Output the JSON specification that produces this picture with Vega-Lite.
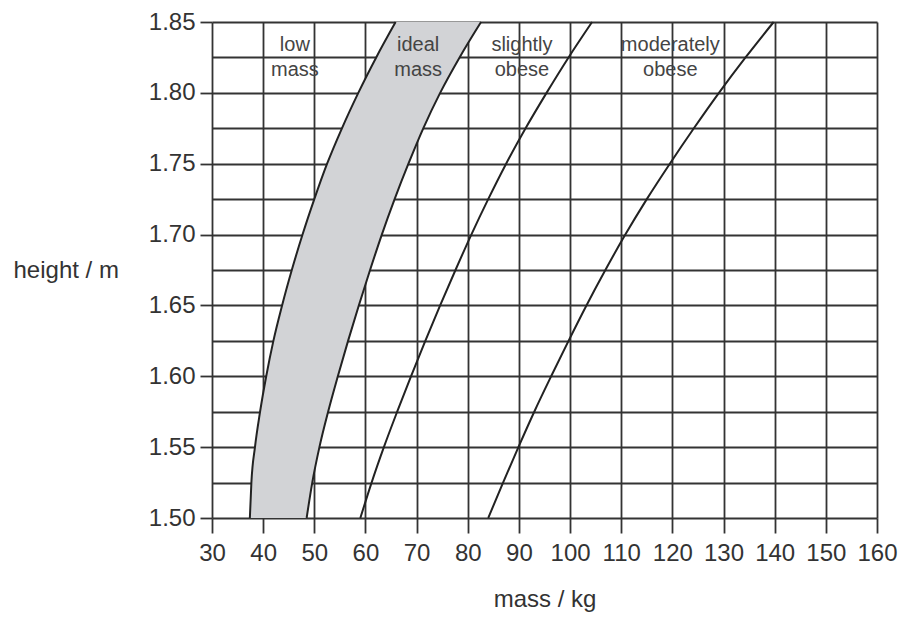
{
  "$schema": "https://vega.github.io/schema/vega-lite/v6.json",
  "description": "Height against mass chart with mass categories",
  "width": 665,
  "height": 496,
  "autosize": {"type": "none"},
  "padding": {"left": 212, "top": 22, "right": 25, "bottom": 101},
  "config": {
    "background": "white",
    "font": "Liberation Sans",
    "view": {"stroke": null},
    "axis": {
      "zindex": 1,
      "domain": false,
      "grid": true,
      "gridColor": "#333",
      "gridWidth": 1.8,
      "gridOpacity": 1,
      "tickColor": "#333",
      "tickWidth": 1.8,
      "labelFontSize": 24,
      "labelColor": "#333",
      "labelOverlap": false,
      "labelFlush": false,
      "labelBound": false,
      "titleFontSize": 24,
      "titleFontWeight": "normal",
      "titleColor": "#333"
    }
  },
  "data": {
    "values": [
      {"height": 1.500, "c1": 37.4, "c2": 48.5, "c3": 59.0, "c4": 84.0},
      {"height": 1.525, "c1": 37.7, "c2": 49.6, "c3": 61.2, "c4": 86.9},
      {"height": 1.550, "c1": 38.4, "c2": 51.0, "c3": 63.6, "c4": 89.9},
      {"height": 1.575, "c1": 39.4, "c2": 52.7, "c3": 66.2, "c4": 93.0},
      {"height": 1.600, "c1": 40.6, "c2": 54.6, "c3": 68.9, "c4": 96.3},
      {"height": 1.625, "c1": 42.0, "c2": 56.6, "c3": 71.7, "c4": 99.7},
      {"height": 1.650, "c1": 43.7, "c2": 58.7, "c3": 74.6, "c4": 103.2},
      {"height": 1.675, "c1": 45.6, "c2": 60.9, "c3": 77.6, "c4": 106.9},
      {"height": 1.700, "c1": 47.7, "c2": 63.2, "c3": 80.7, "c4": 110.8},
      {"height": 1.725, "c1": 50.0, "c2": 65.7, "c3": 84.0, "c4": 115.0},
      {"height": 1.750, "c1": 52.5, "c2": 68.4, "c3": 87.5, "c4": 119.5},
      {"height": 1.775, "c1": 55.4, "c2": 71.3, "c3": 91.3, "c4": 124.2},
      {"height": 1.800, "c1": 58.6, "c2": 74.6, "c3": 95.4, "c4": 129.1},
      {"height": 1.825, "c1": 62.1, "c2": 78.4, "c3": 99.7, "c4": 134.3},
      {"height": 1.850, "c1": 65.9, "c2": 82.6, "c3": 104.3, "c4": 139.8}
    ]
  },
  "encoding": {
    "y": {
      "field": "height",
      "type": "quantitative",
      "scale": {"domain": [1.5, 1.85], "nice": false, "zero": false},
      "axis": {
        "title": "height / m",
        "values": [1.5, 1.525, 1.55, 1.575, 1.6, 1.625, 1.65, 1.675, 1.7, 1.725, 1.75, 1.775, 1.8, 1.825, 1.85],
        "labelExpr": "round(datum.value * 1000) % 50 == 0 ? format(datum.value, '.2f') : ''",
        "tickOpacity": {"condition": {"test": "round(datum.value * 1000) % 50 != 0", "value": 0}, "value": 1},
        "tickSize": 12,
        "labelPadding": 5,
        "titleAngle": 0,
        "titleAlign": "left",
        "titleBaseline": "middle",
        "titleX": -199,
        "titleY": 248
      }
    }
  },
  "layer": [
    {
      "mark": {"type": "area", "orient": "horizontal", "color": "#d2d3d6", "interpolate": "monotone"},
      "encoding": {
        "x": {
          "field": "c1",
          "type": "quantitative",
          "scale": {"domain": [30, 160], "nice": false, "zero": false},
          "axis": {
            "title": "mass / kg",
            "values": [30, 40, 50, 60, 70, 80, 90, 100, 110, 120, 130, 140, 150, 160],
            "tickSize": 15,
            "labelPadding": 8,
            "titlePadding": 22
          }
        },
        "x2": {"field": "c2"}
      }
    },
    {
      "transform": [{"fold": ["c1", "c2", "c3", "c4"], "as": ["curve", "mass"]}],
      "mark": {"type": "line", "color": "#222", "strokeWidth": 2, "interpolate": "monotone"},
      "encoding": {
        "x": {"field": "mass", "type": "quantitative"},
        "detail": {"field": "curve"},
        "order": {"field": "height"}
      }
    },
    {
      "data": {
        "values": [
          {"label": "low", "mass": 46.2, "height": 1.834},
          {"label": "mass", "mass": 46.2, "height": 1.816},
          {"label": "ideal", "mass": 70.3, "height": 1.834},
          {"label": "mass", "mass": 70.3, "height": 1.816},
          {"label": "slightly", "mass": 90.6, "height": 1.834},
          {"label": "obese", "mass": 90.6, "height": 1.816},
          {"label": "moderately", "mass": 119.6, "height": 1.834},
          {"label": "obese", "mass": 119.6, "height": 1.816}
        ]
      },
      "mark": {"type": "text", "fontSize": 20, "color": "#444", "align": "center", "baseline": "middle"},
      "encoding": {
        "x": {"field": "mass", "type": "quantitative"},
        "text": {"field": "label"}
      }
    }
  ]
}
